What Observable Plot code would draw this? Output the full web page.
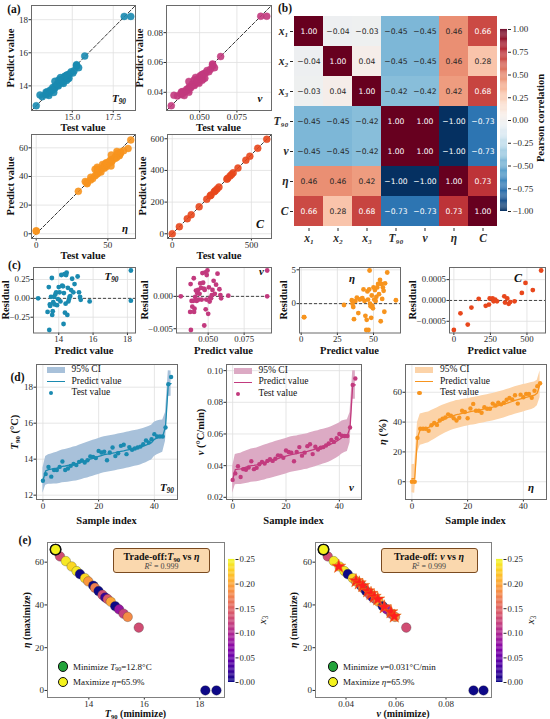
<!DOCTYPE html>
<html><head><meta charset="utf-8">
<script src="https://cdn.jsdelivr.net/npm/d3@7"></script>
<script src="https://cdn.jsdelivr.net/npm/@observablehq/plot@0.6"></script>
<style>
html,body{margin:0;padding:0;background:#fff;}
#fig{position:relative;width:550px;height:719px;overflow:hidden;background:#fff;font-family:"Liberation Serif","Times New Roman",serif;color:#111;}
#fig svg{position:absolute;overflow:visible;}
.lbl{position:absolute;white-space:nowrap;line-height:1;}
.lbl sub{font-size:0.66em;vertical-align:-0.28em;line-height:0;}
.lbl sup{font-size:0.66em;vertical-align:0.5em;line-height:0;}
.sw{position:absolute;box-sizing:border-box;}
</style></head>
<body><div id="fig"></div>
<script>
// ================= DATA =================
// (d) samples sorted by predicted value (index 0..46)
const t90Test = [12.8,13.17,13.57,13.03,13.4,13.4,13.57,13.87,13.4,13.48,
  13.63,13.74,13.67,13.85,13.93,13.81,13.94,14.15,14.13,14.06,
  14.46,14.37,14.41,13.94,14.37,14.65,14.17,14.33,14.74,14.8,
  14.28,14.67,14.52,14.59,14.65,14.7,14.83,15.04,14.93,15.11,
  15.39,15.26,15.26,15.26,15.76,18.17,18.57];
const t90Pred = [12.8,13.35,13.42,13.45,13.48,13.5,13.55,13.6,13.62,13.65,
  13.68,13.72,13.75,13.8,13.85,13.9,13.95,14.0,14.05,14.1,
  14.15,14.2,14.25,14.28,14.3,14.33,14.36,14.4,14.43,14.46,
  14.5,14.53,14.56,14.6,14.63,14.67,14.72,14.78,14.85,14.92,
  15.1,15.18,15.24,15.28,15.8,18.2,18.2];
const t90Ci = [0.7,0.8,0.82,0.84,0.86,0.88,0.9,0.91,0.92,0.93,
  0.94,0.95,0.96,0.97,0.98,0.98,0.99,0.99,1.0,1.0,
  1.0,1.0,1.0,1.0,1.0,1.0,1.0,1.0,1.0,1.0,
  1.0,1.0,1.0,1.0,0.99,0.99,0.98,0.98,0.97,0.96,
  0.95,0.94,0.92,0.9,0.8,0.72,0.7];

const vTest = [0.031,0.0351,0.0397,0.0328,0.0378,0.0374,0.0388,0.0428,0.0378,0.0386,
  0.0409,0.0424,0.0413,0.043,0.044,0.043,0.0444,0.0465,0.0463,0.045,
  0.0496,0.0486,0.0482,0.0428,0.0486,0.0517,0.0463,0.0482,0.0523,0.0535,
  0.0473,0.0519,0.0502,0.0513,0.0517,0.0527,0.054,0.0562,0.055,0.0573,
  0.06,0.0589,0.0587,0.0587,0.0641,0.091,0.095];
const vPred = [0.031,0.0375,0.0378,0.038,0.0385,0.039,0.0395,0.04,0.0402,0.0405,
  0.041,0.0415,0.042,0.0425,0.043,0.0435,0.044,0.0445,0.045,0.0455,
  0.046,0.0465,0.047,0.0473,0.0476,0.048,0.0483,0.0487,0.049,0.0495,
  0.05,0.0505,0.051,0.0515,0.052,0.0525,0.053,0.0538,0.0546,0.0555,
  0.0565,0.0578,0.0585,0.059,0.064,0.091,0.091];
const vCi = [0.0085,0.0095,0.0097,0.0099,0.0101,0.0103,0.0104,0.0105,0.0106,0.0107,
  0.0108,0.0109,0.011,0.011,0.0111,0.0111,0.0112,0.0112,0.0112,0.0112,
  0.0112,0.0112,0.0112,0.0112,0.0112,0.0112,0.0112,0.0112,0.0112,0.0112,
  0.0112,0.0112,0.0111,0.0111,0.011,0.011,0.0109,0.0108,0.0107,0.0106,
  0.0105,0.0104,0.0102,0.01,0.0095,0.009,0.009];

const etaTest = [0,0,29.4,35.5,35.5,35.5,34.2,37.9,39.4,38.1,
  41.1,42.2,43.1,45.2,44.2,42.6,41.1,42.9,47.6,46.8,
  42.6,49.1,52.2,47.6,47.6,46.3,50,48.9,48.9,52.4,
  51.1,53,51.9,53,55,56.1,55.2,58,52.4,58.4,
  56.7,58.9,58.9,56.3,61,64.1,66];
const etaPred = [2,2,29.6,35,35.5,36,36.5,37.5,38.5,39.5,
  40.5,41.5,42.3,43.1,43.8,44.4,45,45.3,45.8,46.2,
  46.5,47,47.3,47.6,48,48.4,48.8,49.2,49.6,50,
  50.5,51,51.5,52,52.6,53.2,53.8,54.5,55,55.5,
  56,56.5,57,57.5,58,59.5,65.5];
const etaCi = [9.4,9.8,10.2,10.5,10.5,10.4,10.3,10.2,10.1,10,
  9.9,9.8,9.7,9.6,9.5,9.4,9.4,9.3,9.3,9.2,
  9.2,9.2,9.2,9.2,9.2,9.2,9.2,9.2,9.2,9.2,
  9.2,9.2,9.2,9.2,9.2,9.2,9.2,9.2,9.2,9.2,
  9.2,9.1,9.0,9.0,8.8,8.6,9.0];

// C: predicted values and residuals
const cPred = [0,45,95,120,170,218,240,245,265,272,283,295,345,350,365,375,385,415,465,490,540,597];
const cResid = [-7.1e-4,-3.1e-4,-5.8e-4,-1.7e-4,0.4e-4,-1.3e-4,-1.0e-4,0.5e-4,0.5e-4,-0.2e-4,0.2e-4,
  -0.2e-4,1.0e-4,-0.5e-4,0.5e-4,-0.8e-4,-0.4e-4,-0.2e-4,1.8e-4,4.2e-4,2.5e-4,7.2e-4];

// (b) Pearson correlation
const corrVars = ["x\u2081","x\u2082","x\u2083","T\u2089\u2080","v","\u03b7","C"];
const corrMatrix = [
  [1.00,-0.04,-0.03,-0.45,-0.45,0.46,0.66],
  [-0.04,1.00,0.04,-0.45,-0.45,0.46,0.28],
  [-0.03,0.04,1.00,-0.42,-0.42,0.42,0.68],
  [-0.45,-0.45,-0.42,1.00,1.00,-1.00,-0.73],
  [-0.45,-0.45,-0.42,1.00,1.00,-1.00,-0.73],
  [0.46,0.46,0.42,-1.00,-1.00,1.00,0.73],
  [0.66,0.28,0.68,-0.73,-0.73,0.73,1.00]];

// (e) trade-off points
const eT90 = [12.8,12.96,13.17,13.38,13.56,13.68,13.86,13.98,14.16,14.22,14.35,14.49,14.59,14.68,14.79,14.95,15.09,15.25,15.4,15.8,18.2,18.6];
const eV   = [0.031,0.0327,0.0351,0.0374,0.0394,0.0407,0.0427,0.044,0.046,0.0467,0.048,0.0496,0.0507,0.0518,0.053,0.0547,0.0563,0.058,0.0596,0.0641,0.091,0.095];
const eEta = [65.9,62.7,60.5,58.0,55.8,54.4,52.5,51.0,49.0,48.0,46.5,44.7,43.5,42.7,41.5,39.4,37.9,35.9,34.4,29.4,0,0];
const eX3  = [0.25,0.13,0.24,0.23,0.24,0.0,0.23,0.19,0.0,0.17,0.0,0.13,0.02,0.14,0.2,0.0,0.08,0.12,0.18,0.13,0.0,0.0];
const starV   = [0.0371,0.044,0.0453,0.0467,0.0487,0.05,0.0513,0.0527,0.0553,0.058,0.0593];
const starEta = [58.0,51.3,50.2,49.0,46.5,45.3,43.9,42.7,39.0,36.7,34.7];

// tick values
const aT90X = [15.0,17.5], aT90Y = [14,16,18];
const aVX = [0.05,0.075], aVY = [0.04,0.06,0.08];
const aEtaX = [0,50], aEtaY = [0,20,40,60];
const aCX = [0,500], aCY = [0,200,400,600];
const cT90X = [14,16,18], cT90Y = [-0.25,0,0.25];
const cVX = [0.05,0.075], cVY = [-0.005,0];
const cEtaX = [0,25,50], cEtaY = [0,5];
const cCX = [0,250,500], cCY = [-0.0005,0,0.0005];
const dX = [0,20,40];
const dT90Y = [12,14,16,18], dVY = [0.02,0.04,0.06,0.08,0.10], dEtaY = [0,20,40,60];
const eT90X = [14,16,18], eVX = [0.04,0.06,0.08], eEtaY = [0,20,40,60];
const corrTicks = [-1,-0.75,-0.5,-0.25,0,0.25,0.5,0.75,1];
const x3Ticks = [0,0.05,0.1,0.15,0.2,0.25];

// colours
const colT = "#1a8ab0", colV = "#c23a7e", colE = "#f7941e", colC = "#e8471c";
const bandT = "#a8c1da", bandV = "#dcaac4", bandE = "#fcd3a8";

// ================= HELPERS =================
const fig = document.getElementById("fig");
const SERIF = '"Liberation Serif","Times New Roman",serif';
const pad = ([a, b], f = 0.05) => [a - (b - a) * f, b + (b - a) * f];

function panel(frame, opts, marks, m = {}) {
  const [x0, y0, x1, y1] = frame;
  const ml = m.l ?? 40, mt = m.t ?? 6, mr = m.r ?? 6, mb = m.b ?? 20;
  const svg = Plot.plot({
    width: x1 - x0 + ml + mr,
    height: y1 - y0 + mt + mb,
    marginLeft: ml, marginTop: mt, marginRight: mr, marginBottom: mb,
    style: {fontFamily: SERIF, fontSize: (m.fs ?? 9) + "px", background: "transparent",
            color: "#2a2a2a", overflow: "visible", maxWidth: "none"},
    ...opts,
    marks
  });
  svg.style.left = (x0 - ml) + "px";
  svg.style.top = (y0 - mt) + "px";
  fig.appendChild(svg);
}
function grid(xt, yt) {
  return [Plot.gridX({ticks: xt, stroke: "#e0e0e0", strokeOpacity: 1, strokeWidth: 0.8}),
          Plot.gridY({ticks: yt, stroke: "#e0e0e0", strokeOpacity: 1, strokeWidth: 0.8})];
}
function axes(xt, yt, xf, yf, fc = "#6a6a6a") {
  return [Plot.axisX({ticks: xt, tickFormat: xf, tickSize: 2.5, tickPadding: 0.5, label: null}),
          Plot.axisY({ticks: yt, tickFormat: yf, tickSize: 2.5, tickPadding: 1, label: null}),
          Plot.frame({stroke: fc, strokeWidth: 1})];
}
function T(html, x, y, o = {}) {
  const d = document.createElement("div");
  d.className = "lbl";
  d.innerHTML = html;
  d.style.left = x + "px"; d.style.top = y + "px";
  d.style.fontSize = (o.size ?? 10.5) + "px";
  d.style.fontWeight = o.w ?? "bold";
  if (o.it) d.style.fontStyle = "italic";
  if (o.color) d.style.color = o.color;
  if (o.font) d.style.fontFamily = o.font;
  const ax = o.anchor === "s" ? "0" : "-50%";
  d.style.transform = `translate(${ax},-50%)` + (o.rot ? ` rotate(${o.rot}deg)` : "");
  fig.appendChild(d);
  return d;
}
function box(x, y, w, h, css) {
  const d = document.createElement("div");
  d.className = "sw";
  d.style.left = x + "px"; d.style.top = y + "px";
  d.style.width = w + "px"; d.style.height = h + "px";
  Object.assign(d.style, css);
  fig.appendChild(d);
  return d;
}

// ================= (a) parity plots =================
function parity(frame, test, pred, color, xt, yt, xf, yf) {
  const pts = test.map((t, i) => ({t, p: pred[i]}));
  const dom = pad(d3.extent([...test, ...pred]));
  panel(frame, {x: {domain: dom}, y: {domain: dom}}, [
    ...grid(xt, yt),
    Plot.line([[dom[0], dom[0]], [dom[1], dom[1]]], {stroke: "#222", strokeWidth: 0.9, strokeDasharray: "3.5,2"}),
    Plot.dot(pts, {x: "t", y: "p", r: 3.5, fill: color, fillOpacity: 0.9, stroke: color, strokeWidth: 0.4}),
    ...axes(xt, yt, xf, yf)
  ]);
}
const cTest = cPred.map((p, i) => p + cResid[i]);
parity([31,5,135,110], t90Test, t90Pred, colT, aT90X, aT90Y, ".1f", "d");
parity([166,5,271,110], vTest, vPred, colV, aVX, aVY, ".3f", ".2f");
parity([31,134,135,238], etaTest, etaPred, colE, aEtaX, aEtaY, "d", "d");
parity([167,134,271,238], cTest, cPred, colC, aCX, aCY, "d", "d");

// ================= (b) heatmap =================
const corrCells = corrVars.flatMap((r, i) => corrVars.map((c, j) => ({row: r, col: c, value: corrMatrix[i][j]})));
const fmtCorr = v => v.toFixed(2).replace("-", "\u2212");
const rdbu = {type: "linear", scheme: "rdbu", domain: [-1, 1], reverse: true};
panel([293,13,497,228], {
  x: {domain: corrVars, padding: 0, label: null},
  y: {domain: corrVars, padding: 0, label: null},
  color: rdbu
}, [
  Plot.cell(corrCells, {x: "col", y: "row", fill: "value", inset: 0}),
  Plot.text(corrCells.filter(d => Math.abs(d.value) <= 0.5), {x: "col", y: "row", text: d => fmtCorr(d.value), fill: "#262626", fontFamily: "DejaVu Sans", fontSize: 7.6}),
  Plot.text(corrCells.filter(d => Math.abs(d.value) > 0.5), {x: "col", y: "row", text: d => fmtCorr(d.value), fill: "#ffffff", fontFamily: "DejaVu Sans", fontSize: 7.6}),
  Plot.axisX({tickSize: 3, tickPadding: 2, fontSize: 11.5, fontWeight: "bold", fontStyle: "italic", label: null}),
  Plot.axisY({tickSize: 3, tickPadding: 2, fontSize: 11.5, fontWeight: "bold", fontStyle: "italic", label: null})
], {l: 26, b: 20});
const cbB = d3.range(-1, 1, 0.01);
panel([500,29,507,211], {x: {domain: [0, 1], axis: null}, y: {domain: [-1, 1]}, color: rdbu}, [
  Plot.rect(cbB, {x1: 0, x2: 1, y1: d => d, y2: d => d + 0.0105, fill: d => d}),
  Plot.axisY({anchor: "right", ticks: corrTicks, tickFormat: ".2f", tickSize: 3, tickPadding: 2, label: null})
], {l: 2, r: 40, fs: 9});

// ================= (c) residuals =================
function resid(frame, pred, res, color, xt, yt, xf, yf) {
  const pts = pred.map((p, i) => ({p, r: res[i]}));
  panel(frame, {x: {domain: pad(d3.extent(pred))}, y: {domain: pad(d3.extent(res))}}, [
    ...grid(xt, yt),
    Plot.ruleY([0], {stroke: "#444", strokeWidth: 1, strokeDasharray: "3,2"}),
    Plot.dot(pts, {x: "p", y: "r", r: 2.4, fill: color}),
    ...axes(xt, yt, xf, yf)
  ], {fs: 8.8});
}
resid([33,267,135,332.5], t90Pred, t90Test.map((t, i) => t - t90Pred[i]), colT, cT90X, cT90Y, "d", ".2f");
resid([176,267,271,332.5], vPred, vTest.map((t, i) => t - vPred[i]), colV, cVX, cVY, ".3f", ".3f");
resid([299,267,400,332.5], etaPred, etaTest.map((t, i) => t - etaPred[i]), colE, cEtaX, cEtaY, "d", "d");
resid([449,267,545,332.5], cPred, cResid, colC, cCX, cCY, "d", ".4f");

// ================= (d) predictions with CI =================
function seriesD(frame, pred, test, ci, color, band, yt, yf) {
  const rows = pred.map((p, i) => ({i, p, t: test[i], lo: p - ci[i], hi: p + ci[i]}));
  panel(frame, {x: {domain: pad([0, pred.length - 1])}, y: {domain: pad(d3.extent(rows.flatMap(d => [d.lo, d.hi])))}}, [
    ...grid(dX, yt),
    Plot.areaY(rows, {x: "i", y1: "lo", y2: "hi", fill: band, fillOpacity: 1}),
    Plot.line(rows, {x: "i", y: "p", stroke: color, strokeWidth: 1.3}),
    Plot.dot(rows, {x: "i", y: "t", r: 2.2, fill: color}),
    ...axes(dX, yt, "d", yf)
  ]);
}
seriesD([36,364,177,499], t90Pred, t90Test, t90Ci, colT, bandT, dT90Y, "d");
seriesD([226,364,361,499], vPred, vTest, vCi, colV, bandV, dVY, ".2f");
seriesD([405,364,546,499], etaPred, etaTest, etaCi, colE, bandE, dEtaY, "d");

function legendD(x0, y0, band, color) {
  box(x0, y0 - 3, 18, 6.5, {background: band});
  T("95% CI", x0 + 25, y0, {anchor: "s", size: 9.5, w: "normal"});
  box(x0, y0 + 11, 18, 1.5, {background: color});
  T("Predict value", x0 + 25, y0 + 11.8, {anchor: "s", size: 9.5, w: "normal"});
  box(x0 + 2, y0 + 21, 4.6, 4.6, {background: color, borderRadius: "50%"});
  T("Test value", x0 + 25, y0 + 23.3, {anchor: "s", size: 9.5, w: "normal"});
}
legendD(46.5, 369.7, bandT, colT);
legendD(233.5, 370.5, bandV, colV);
legendD(415, 369.7, bandE, colE);

// ================= (e) trade-offs =================
const ePts = eT90.map((t, i) => ({t, v: eV[i], eta: eEta[i], x3: eX3[i]}));
const stars = starV.map((v, i) => ({v, eta: starEta[i]}));
const plasma = {type: "linear", scheme: "plasma", domain: [0, 0.25]};
function tradeoff(frame, key, xt, xf, withStars) {
  const minPt = d3.least(ePts, d => d[key]);
  const maxPt = d3.greatest(ePts, d => d.eta);
  panel(frame, {x: {domain: pad(d3.extent(ePts, d => d[key]))}, y: {domain: pad(d3.extent(ePts, d => d.eta))}, color: plasma}, [
    Plot.dot(ePts, {x: key, y: "eta", fill: "x3", r: 4.8, stroke: "#333", strokeWidth: 0.3}),
    ...(withStars ? [Plot.dot(stars, {x: "v", y: "eta", symbol: "star", r: 4.4, fill: "#ff1e1e", stroke: "#e07a10", strokeWidth: 0.5})] : []),
    Plot.dot([minPt], {x: key, y: "eta", r: 5.2, fill: "#22a33a", stroke: "#111", strokeWidth: 1.4}),
    Plot.dot([maxPt], {x: key, y: "eta", r: 5.2, fill: "#f4f21c", stroke: "#111", strokeWidth: 1.4}),
    ...axes(xt, eEtaY, xf, "d", "#808080")
  ], {fs: 9});
}
tradeoff([47,542,224,697], "t", eT90X, "d", false);
tradeoff([315,542,491,697], "v", eVX, ".2f", true);
const cbE = d3.range(0, 0.25, 0.0025);
for (const fx of [[228,559,234.5,682], [496,559,502.5,682]]) {
  panel(fx, {x: {domain: [0, 1], axis: null}, y: {domain: [0, 0.25]}, color: plasma}, [
    Plot.rect(cbE, {x1: 0, x2: 1, y1: d => d, y2: d => d + 0.0027, fill: d => d}),
    Plot.axisY({anchor: "right", ticks: x3Ticks, tickFormat: ".2f", tickSize: 3, tickPadding: 1.5, label: null})
  ], {l: 2, r: 36, fs: 8.8});
}

// ================= TEXT =================
// panel letters
T("(a)", 14, 10, {size: 11.5});
T("(b)", 285, 8.5, {size: 11.5});
T("(c)", 14.5, 266, {size: 11.5});
T("(d)", 17.5, 378, {size: 11.5});
T("(e)", 25, 541, {size: 11.5});
// (a)
for (const [x, y] of [[83, 128], [218.5, 128], [83, 256], [219, 256]]) T("Test value", x, y);
for (const [x, y] of [[11, 57.5], [140, 57.5], [11, 186], [142.5, 186]]) T("Predict value", x, y, {rot: -90});
T("<i>T</i><sub>90</sub>", 119, 98, {it: true, size: 11});
T("<i>v</i>", 260, 98, {it: true, size: 11});
T("<i>η</i>", 125, 228, {it: true, size: 11});
T("<i>C</i>", 260, 224, {it: true, size: 12});
// (b)
T("Pearson correlation", 541, 118, {rot: -90, size: 10.5});
// (c)
for (const [x, y] of [[6, 300], [144.5, 300], [284, 300], [413, 300]]) T("Residual", x, y, {rot: -90});
for (const x of [84, 223.5, 349.5, 497]) T("Predict value", x, 351);
T("<i>T</i><sub>90</sub>", 111.5, 275.5, {it: true, size: 11});
T("<i>v</i>", 261.5, 271, {it: true, size: 11});
T("<i>η</i>", 352, 278, {it: true, size: 11});
T("<i>C</i>", 518, 278, {it: true, size: 12});
// (d)
T("<i>T</i><sub>90</sub> (°C)", 14.5, 432, {rot: -90});
T("<i>v</i> (°C/min)", 200.5, 432, {rot: -90});
T("<i>η</i> (%)", 383, 432, {rot: -90});
for (const x of [106.5, 293.5, 475.5]) T("Sample index", x, 520.5);
T("<i>T</i><sub>90</sub>", 167, 487, {it: true, size: 11});
T("<i>v</i>", 351.5, 487, {it: true, size: 11});
T("<i>η</i>", 531, 487, {it: true, size: 11});
// (e)
T("<i>η</i> (maximize)", 27, 620, {rot: -90, size: 10});
T("<i>η</i> (maximize)", 294, 620, {rot: -90, size: 10});
T("<i>T</i><sub>90</sub> (minimize)", 135.5, 713.5, {size: 10});
T("<i>v</i> (minimize)", 403, 713.5, {size: 10});
T("<i>x</i><sub>3</sub>", 261.5, 620, {rot: -90, size: 11, w: "normal"});
T("<i>x</i><sub>3</sub>", 529.5, 620, {rot: -90, size: 11, w: "normal"});
// trade-off boxes
const boxCss = {background: "#fad8ae", border: "1px solid #7a4a20", borderRadius: "3px"};
box(113, 548, 97, 25, boxCss);
T("Trade-off:<i>T</i><sub>90</sub> vs <i>η</i>", 161.5, 556.5, {size: 10});
T("<i>R</i><sup>2</sup> = 0.999", 161.5, 567, {size: 8, w: "normal", color: "#444"});
box(380.5, 548, 97, 25, boxCss);
T("Trade-off: <i>v</i> vs <i>η</i>", 429, 556.5, {size: 10});
T("<i>R</i><sup>2</sup> = 0.999", 429, 567, {size: 8, w: "normal", color: "#444"});
// trade-off legends
function legendE(cx, y1, y2, minTxt, maxTxt) {
  box(cx - 5.3, y1 - 5.3, 10.6, 10.6, {background: "#22a33a", border: "1.3px solid #111", borderRadius: "50%"});
  T(minTxt, cx + 10, y1, {anchor: "s", size: 9, w: "normal"});
  box(cx - 5.3, y2 - 5.3, 10.6, 10.6, {background: "#f4f21c", border: "1.3px solid #111", borderRadius: "50%"});
  T(maxTxt, cx + 10, y2, {anchor: "s", size: 9, w: "normal"});
}
const etaMax = d3.max(eEta);
legendE(63, 666.5, 682, `Minimize <i>T</i><sub>90</sub>=${d3.min(eT90)}°C`, `Maximize <i>η</i>=${etaMax}%`);
legendE(333, 666.5, 682, `Minimize <i>v</i>=${d3.min(eV)}°C/min`, `Maximize <i>η</i>=${etaMax}%`);
</script>
</body></html>
